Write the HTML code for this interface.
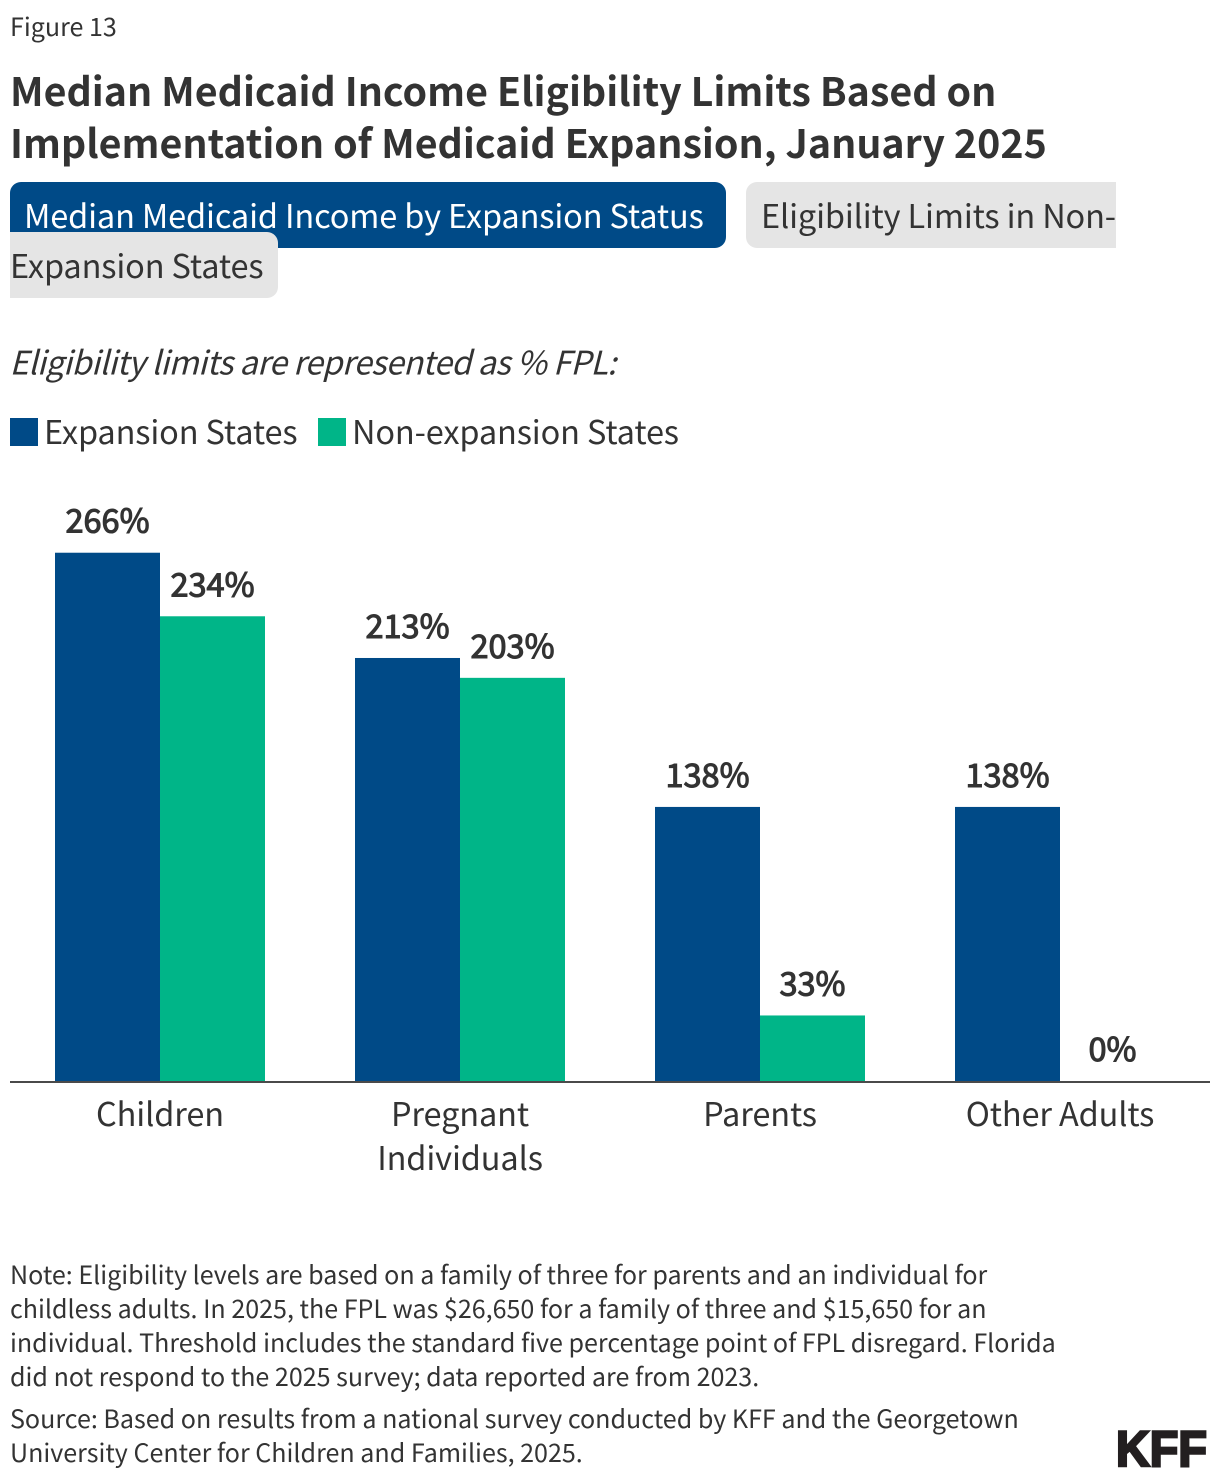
<!DOCTYPE html>
<html lang="en">
<head>
<meta charset="utf-8">
<title>Median Medicaid Income Eligibility Limits</title>
<style>
html,body{margin:0;padding:0;background:#fff;}
body{width:1220px;height:1480px;overflow:hidden;}
svg{display:block;}
text{font-family:"Noto Sans CJK JP","Liberation Sans",sans-serif;fill:#333;}
.title{font-size:39.36px;font-weight:700;}
.tab{font-size:32.5px;letter-spacing:-0.14px;}
.sub{font-size:32.5px;font-style:italic;letter-spacing:-0.53px;}
.cat{font-size:32.5px;letter-spacing:-0.12px;text-anchor:middle;}
.val{font-size:32.5px;font-weight:400;text-anchor:middle;stroke:#333;stroke-width:1.1px;}
.note{font-size:25.07px;}
</style>
</head>
<body>
<svg id="chart" width="1220" height="1480" viewBox="0 0 1220 1480" xmlns="http://www.w3.org/2000/svg">
<text x="10" y="36" class="note">Figure 13</text>
<g>
<text x="10" y="106" class="title">Median Medicaid Income Eligibility Limits Based on</text>
<text x="10" y="158" class="title">Implementation of Medicaid Expansion, January 2025</text>
</g>
<g>
<rect x="10" y="182" width="716" height="66" rx="11" fill="#004a87"/>
<text x="24" y="228" class="tab" style="fill:#fff">Median Medicaid Income by Expansion Status</text>
</g>
<g>
<path d="M1116 182H757a11 11 0 0 0-11 11v44a11 11 0 0 0 11 11H1116Z" fill="#e5e5e5"/>
<path d="M10 232H267a11 11 0 0 1 11 11v44a11 11 0 0 1-11 11H10Z" fill="#e5e5e5"/>
<text x="761" y="228" class="tab">Eligibility Limits in Non-</text>
<text x="10" y="278" class="tab">Expansion States</text>
</g>
<text x="9.5" y="374.5" class="sub">Eligibility limits are represented as % FPL:</text>
<g>
<rect x="10" y="418" width="28" height="28" fill="#004a87"/>
<text x="44" y="444" class="tab">Expansion States</text>
<rect x="318" y="418" width="28" height="28" fill="#00b588"/>
<text x="352" y="444" class="tab">Non-expansion States</text>
</g>
<g id="plot"></g>
<rect x="10" y="1081" width="1200" height="2" fill="#4a4a4a"/>
<g>
<text x="10" y="1284" class="note">Note: Eligibility levels are based on a family of three for parents and an individual for</text>
<text x="10" y="1318" class="note">childless adults. In 2025, the FPL was $26,650 for a family of three and $15,650 for an</text>
<text x="10" y="1352" class="note">individual. Threshold includes the standard five percentage point of FPL disregard. Florida</text>
<text x="10" y="1386" class="note">did not respond to the 2025 survey; data reported are from 2023.</text>
</g>
<g>
<text x="10" y="1428" class="note">Source: Based on results from a national survey conducted by KFF and the Georgetown</text>
<text x="10" y="1462" class="note">University Center for Children and Families, 2025.</text>
</g>
<text x="1116" y="1466" textLength="91" lengthAdjust="spacingAndGlyphs" style="font-family:'Liberation Sans',sans-serif;font-size:50px;font-weight:700;fill:#231f20;stroke:#231f20;stroke-width:2.5px">KFF</text>
</svg>
<script>
const categories = [["Children"], ["Pregnant", "Individuals"], ["Parents"], ["Other Adults"]];
const expansionValues = [266, 213, 138, 138];
const nonExpansionValues = [234, 203, 33, 0];
const seriesColors = ["#004a87", "#00b588"];
const seriesNames = ["expansion", "non-expansion"];

const svgNS = "http://www.w3.org/2000/svg";
const plot = document.getElementById("plot");
const plotLeft = 10;
const plotWidth = 1200;
const baselineY = 1081;
const pxPerPercent = 1.986;
const barWidth = 105;

function xCenter(i) {
  return plotLeft + (plotWidth / categories.length) * (i + 0.5);
}
function yScale(v) {
  return baselineY - v * pxPerPercent;
}
function addText(cls, x, y, str) {
  const t = document.createElementNS(svgNS, "text");
  t.setAttribute("class", cls);
  t.setAttribute("x", x);
  t.setAttribute("y", y);
  t.textContent = str;
  plot.appendChild(t);
  return t;
}

[expansionValues, nonExpansionValues].forEach(function (values, s) {
  values.forEach(function (v, i) {
    const left = xCenter(i) + (s - 1) * barWidth;
    const r = document.createElementNS(svgNS, "rect");
    r.setAttribute("x", left);
    r.setAttribute("y", yScale(v));
    r.setAttribute("width", barWidth);
    r.setAttribute("height", baselineY - yScale(v));
    r.setAttribute("fill", seriesColors[s]);
    
    
    plot.appendChild(r);
    const label = addText("val", left + barWidth / 2, yScale(v) - 20, v + "%");
    
    
  });
});

categories.forEach(function (lines, i) {
  lines.forEach(function (line, j) {
    const tick = addText("cat", xCenter(i), 1126 + j * 44, line);
    
    
  });
});
</script>
</body>
</html>
